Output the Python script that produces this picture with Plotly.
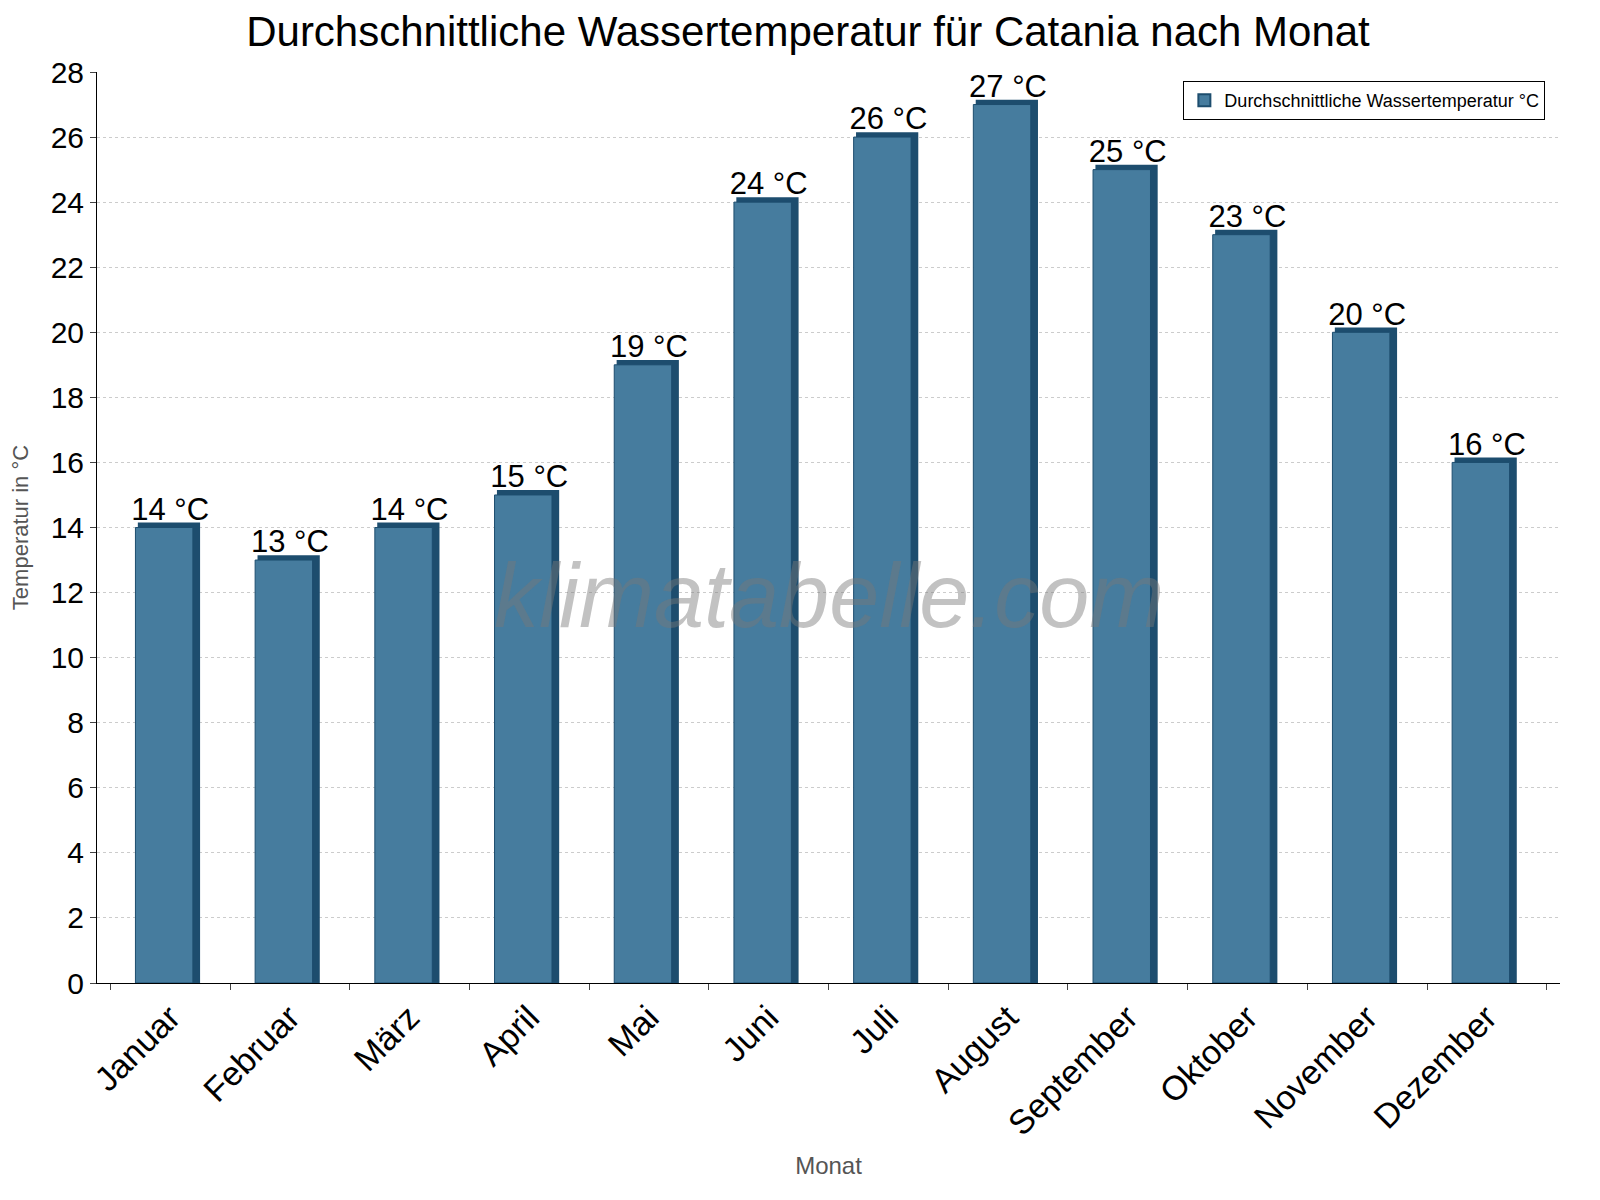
import plotly.graph_objects as go

months = ["Januar", "Februar", "März", "April", "Mai", "Juni", "Juli", "August",
          "September", "Oktober", "November", "Dezember"]
water_temp = [14, 13, 14, 15, 19, 24, 26, 27, 25, 23, 20, 16]
labels = [f"{v} °C" for v in water_temp]

front = "#467c9e"
dark = "#1d4d6e"

fig = go.Figure()
# dark back bar gives the 3D edge on top and right side
fig.add_trace(go.Bar(x=months, y=[v + 0.15 for v in water_temp], width=0.52, offset=-0.27,
                     marker=dict(color=dark, line=dict(width=0)), showlegend=False, hoverinfo="skip"))
fig.add_trace(go.Bar(x=months, y=water_temp, width=0.48, offset=-0.29, name="Durchschnittliche Wassertemperatur °C",
                     marker=dict(color=front, line=dict(color=dark, width=1))))
fig.add_trace(go.Scatter(x=months, y=water_temp, mode="text", text=labels, textposition="top center",
                         textfont=dict(size=31, color="black"), showlegend=False, cliponaxis=False,
                         hoverinfo="skip"))

fig.add_annotation(text="<i>klimatabelle.com</i>", x=0.5, y=0.425, xref="paper", yref="paper",
                   showarrow=False, font=dict(size=90, color="rgba(120,120,120,0.45)",
                                              family="Liberation Sans"))
fig.update_layout(
    width=1600, height=1200, barmode="overlay", plot_bgcolor="white", paper_bgcolor="white",
    font=dict(family="Liberation Sans", color="black"),
    title=dict(text="Durchschnittliche Wassertemperatur für Catania nach Monat", x=0.5, y=0.993,
               yanchor="top", font=dict(size=42)),
    margin=dict(l=85, r=48, t=64, b=225),
    legend=dict(x=0.99, y=0.99, xanchor="right", yanchor="top", bordercolor="black", borderwidth=1,
                font=dict(size=18), itemsizing="constant"),
)
fig.update_xaxes(title=dict(text="Monat", font=dict(size=24, color="#555")), tickangle=-45,
                 tickfont=dict(size=34), showline=True, linecolor="black",
                 ticks="outside", ticklen=6, tickson="boundaries")
fig.update_yaxes(title=dict(text="Temperatur in °C", font=dict(size=22, color="#555")),
                 range=[0, 28], dtick=2, tickfont=dict(size=30), showline=True, linecolor="black",
                 ticks="outside", ticklen=6, gridcolor="#ccc", griddash="dot")
fig.write_html("out.html")
